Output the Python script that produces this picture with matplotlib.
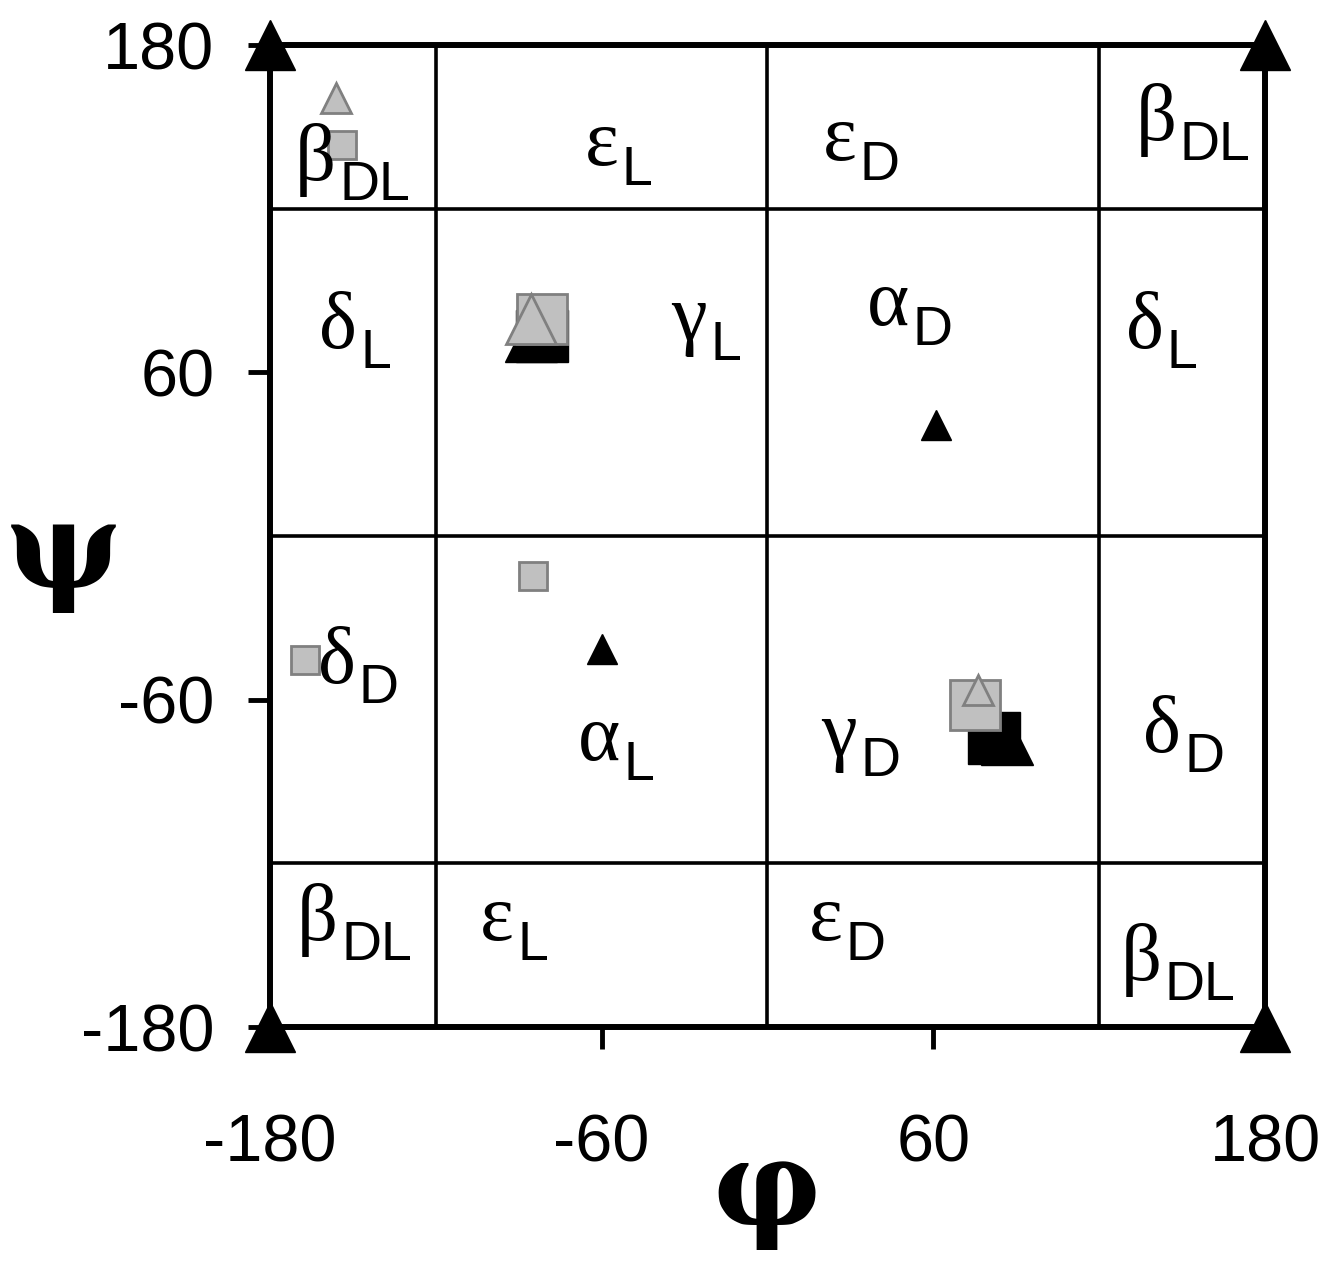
import matplotlib
matplotlib.use("Agg")
import matplotlib.pyplot as plt

plt.rcParams["font.family"] = "Liberation Sans"

# region boundaries and ticks
bounds = [-120, 0, 120]
ticks = [-180, -60, 60, 180]

# conformations (phi, psi)
corner_phi = [-180, 180, -180, 180]
corner_psi = [180, 180, -180, -180]

black_tri_phi = [61.0, -59.9]
black_tri_psi = [40.7, -41.4]

black_big_sq_phi = [-81.6, 81.9]
black_big_sq_psi = [73.5, -73.9]
black_big_tri_phi = [-85.6, 86.6]
black_big_tri_psi = [73.5, -74.4]

gray_sq_phi = [-153.8, -84.7, -167.3]
gray_sq_psi = [143.3, -14.5, -45.4]
gray_big_sq_phi = [-81.6, 75.1]
gray_big_sq_psi = [79.6, -61.9]

gray_tri_phi = [-156.1, 76.2]
gray_tri_psi = [160.6, -56.4]
gray_big_tri_phi = [-85.6]
gray_big_tri_psi = [79.6]

# region labels: greek letter + subscript, anchored at greek baseline / right edge
labels = ["β", "ε", "ε", "β",
          "δ", "γ", "α", "δ",
          "δ", "α", "γ", "δ",
          "β", "ε", "ε", "β"]
subs = ["DL", "L", "D", "DL",
        "L", "L", "D", "L",
        "D", "L", "D", "D",
        "DL", "L", "D", "DL"]
label_phi = [-156.8, -54.7, 31.4, 147.4, -149.2, -22.6, 50.5, 142.7,
             -149.6, -54.0, 31.7, 149.0, -156.1, -92.4, 26.4, 142.0]
label_psi = [130.5, 136.0, 137.8, 145.2, 68.9, 71.9, 77.4, 68.9,
             -53.9, -82.1, -80.6, -79.2, -148.1, -148.1, -148.1, -162.7]

fig = plt.figure(figsize=(13.26, 12.65), dpi=100)
ax = fig.add_axes([0.2036, 0.1881, 0.7504, 0.7763])
ax.set_xlim(-180, 180)
ax.set_ylim(-180, 180)

for b in bounds:
    ax.axvline(b, color="black", lw=2.6, zorder=1)
    ax.axhline(b, color="black", lw=2.6, zorder=1)

gray = "#c0c0c0"
edge = "#808080"

ax.plot(black_big_sq_phi, black_big_sq_psi, "s", color="black", ms=37, zorder=3)
ax.plot(black_big_tri_phi, black_big_tri_psi, "^", color="black", ms=37, zorder=3)
ax.plot(black_tri_phi, black_tri_psi, "^", color="black", ms=21, zorder=3)
ax.plot(gray_big_sq_phi, gray_big_sq_psi, "s", mfc=gray, mec=edge, mew=2, ms=36, zorder=4)
ax.plot(gray_big_tri_phi, gray_big_tri_psi, "^", mfc=gray, mec=edge, mew=2, ms=36, zorder=4)
ax.plot(gray_sq_phi, gray_sq_psi, "s", mfc=gray, mec=edge, mew=2, ms=20, zorder=4)
ax.plot(gray_tri_phi, gray_tri_psi, "^", mfc=gray, mec=edge, mew=2, ms=22, zorder=5)
ax.plot(corner_phi, corner_psi, "^", color="black", ms=36, clip_on=False, zorder=6)

for g, s, x, y in zip(labels, subs, label_phi, label_psi):
    ax.annotate(g, (x, y), xytext=(2, 0), textcoords="offset pixels",
                fontsize=58, family="Liberation Serif",
                ha="right", va="baseline", zorder=5)
    ax.annotate(s, (x, y), xytext=(5, -20), textcoords="offset pixels",
                fontsize=40, ha="left", va="baseline", zorder=5)

for side in ["left", "right", "top", "bottom"]:
    ax.spines[side].set_linewidth(4.3)

ax.set_xticks(ticks)
ax.set_yticks(ticks)
ax.set_xticklabels(["-180", "-60", "60", "180"])
ax.set_yticklabels(["-180", "-60", "60", "180"])
ax.tick_params(axis="both", direction="out", length=16, width=3.5, labelsize=48)
ax.tick_params(axis="x", pad=46)
ax.tick_params(axis="y", pad=24)

fig.text(0.578, 0.058, "φ", fontsize=86, ha="center", va="center",
         family="DejaVu Serif", weight="bold")
fig.text(0.0475, 0.562, "ψ", fontsize=88, ha="center", va="center",
         family="DejaVu Serif", weight="bold")

fig.savefig("out.png", dpi=100)
